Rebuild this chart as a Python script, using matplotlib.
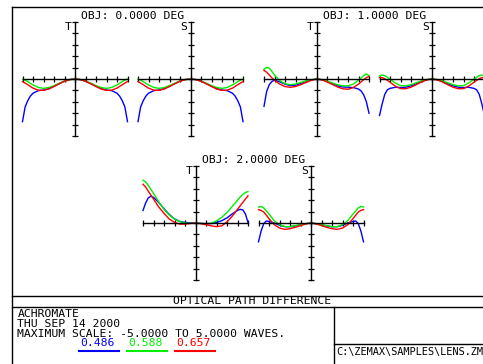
import numpy as np
import matplotlib
matplotlib.use('Agg')
import matplotlib.pyplot as plt
from matplotlib.lines import Line2D

# Pupil coordinates for the ray fans
pupil_full = np.array([-1, -.95, -.9, -.85, -.8, -.7, -.6, -.5, -.4, -.3, -.2, -.1, 0,
                       .1, .2, .3, .4, .5, .6, .7, .8, .85, .9, .95, 1])
pupil_half = np.array([0, .1, .2, .3, .4, .5, .6, .7, .8, .85, .9, .95, 1])

wavelengths = ['0.486', '0.588', '0.657']
colors = ['#0000ff', '#00ee00', '#ff0000']
field_titles = ['OBJ: 0.0000 DEG', 'OBJ: 1.0000 DEG', 'OBJ: 2.0000 DEG']

# OPD in waves.  Field 0: symmetric, tangential == sagittal (half fans)
obj0_blue = [0, -0.05, -0.19, -0.40, -0.63, -0.84, -0.97, -1.02, -1.25, -1.50, -1.90, -2.45, -3.74]
obj0_green = [0, -0.05, -0.18, -0.37, -0.58, -0.75, -0.82, -0.74, -0.52, -0.38, -0.23, -0.10, 0.0]
obj0_red = [0, -0.05, -0.20, -0.42, -0.66, -0.88, -1.00, -0.98, -0.80, -0.65, -0.50, -0.36, -0.22]

# Field 1 tangential (full fan)
obj1_t_blue = [-2.4, -1.1, -0.5, -0.22, -0.1, -0.25, -0.45, -0.58, -0.55, -0.4, -0.23, -0.08, 0,
               -0.06, -0.22, -0.42, -0.6, -0.7, -0.72, -0.75, -0.88, -1.05, -1.4, -2.0, -3.0]
obj1_t_green = [0.85, 1.02, 0.96, 0.67, 0.35, -0.15, -0.41, -0.5, -0.44, -0.3, -0.17, -0.06, 0,
                -0.05, -0.18, -0.35, -0.5, -0.6, -0.6, -0.45, -0.1, 0.1, 0.32, 0.44, 0.3]
obj1_t_red = [0.75, 0.6, 0.35, 0.1, -0.12, -0.45, -0.66, -0.73, -0.66, -0.5, -0.3, -0.12, 0,
              -0.07, -0.25, -0.47, -0.7, -0.86, -0.9, -0.75, -0.45, -0.25, -0.05, 0.12, 0.22]
# Field 1 sagittal (half fan)
obj1_s_blue = [0, -0.06, -0.22, -0.42, -0.60, -0.72, -0.75, -0.73, -0.82, -0.95, -1.35, -2.2, -3.2]
obj1_s_green = [0, -0.04, -0.16, -0.33, -0.50, -0.60, -0.58, -0.35, -0.02, 0.15, 0.30, 0.35, 0.26]
obj1_s_red = [0, -0.08, -0.26, -0.50, -0.72, -0.85, -0.84, -0.62, -0.28, -0.12, 0.02, 0.12, 0.12]

# Field 2 tangential (full fan)
obj2_t_blue = [1.1, 1.75, 2.2, 2.35, 2.25, 1.8, 1.25, 0.75, 0.35, 0.14, 0.05, 0.01, 0,
               -0.03, -0.06, -0.05, 0.05, 0.2, 0.45, 0.8, 1.1, 1.2, 1.15, 0.8, 0.05]
obj2_t_green = [3.75, 3.6, 3.3, 2.95, 2.6, 1.85, 1.2, 0.7, 0.35, 0.12, 0.0, -0.03, 0,
                -0.04, -0.07, -0.02, 0.18, 0.5, 0.92, 1.45, 2.0, 2.28, 2.5, 2.68, 2.75]
obj2_t_red = [3.4, 3.15, 2.8, 2.45, 2.1, 1.4, 0.85, 0.35, 0.05, -0.1, -0.1, -0.04, 0,
              -0.06, -0.15, -0.25, -0.32, -0.25, 0.1, 0.6, 1.2, 1.5, 1.8, 2.1, 2.38]
# Field 2 sagittal (half fan)
obj2_s_blue = [0, -0.06, -0.16, -0.26, -0.33, -0.32, -0.20, 0.0, 0.13, 0.18, -0.05, -0.7, -1.65]
obj2_s_green = [0, -0.06, -0.15, -0.23, -0.32, -0.32, -0.15, 0.20, 0.79, 1.05, 1.32, 1.46, 1.40]
obj2_s_red = [0, -0.08, -0.23, -0.38, -0.50, -0.56, -0.44, -0.15, 0.38, 0.68, 0.96, 1.10, 1.17]

W, H = 483, 364
FONT = 'DejaVu Sans Mono'
FS = 8.2

fig = plt.figure(figsize=(W / 100, H / 100), dpi=100)
fig.patch.set_facecolor('white')


def px(x, y):
    return x / W, 1 - y / H


def fan_axes(cx, cy, label):
    hw, hh = 52.5, 57
    ax = fig.add_axes([(cx - hw) / W, 1 - (cy + hh) / H, 2 * hw / W, 2 * hh / H])
    ax.set_xlim(-1, 1)
    ax.set_ylim(-5, 5)
    ax.patch.set_alpha(0)
    for s in ['top', 'right']:
        ax.spines[s].set_visible(False)
    for s in ['left', 'bottom']:
        ax.spines[s].set_position('zero')
        ax.spines[s].set_linewidth(1.0)
    ax.set_xticks(np.linspace(-1, 1, 11))
    ax.set_yticks(np.arange(-5, 6, 1))
    ax.tick_params(direction='inout', length=4.5, width=0.9,
                   labelbottom=False, labelleft=False)
    ax.text(0.5 - 6.5 / 105, 1 - 5 / 114, label, transform=ax.transAxes,
            ha='center', va='center', family=FONT, fontsize=FS)
    return ax


def draw_full(ax, curves):
    for vals, c in zip(curves, colors):
        ax.plot(pupil_full, vals, color=c, lw=1.0, clip_on=False)


def draw_half(ax, curves):
    for vals, c in zip(curves, colors):
        ax.plot(np.concatenate([-pupil_half[::-1], pupil_half[1:]]),
                np.concatenate([np.array(vals)[::-1], np.array(vals)[1:]]),
                color=c, lw=1.0, clip_on=False)


t_centers = [(75, 79), (316.5, 79), (195.5, 223)]
s_off = 115.5
title_y = [15.7, 15.7, 160]

obj0 = [obj0_blue, obj0_green, obj0_red]
fans_t = [obj0, [obj1_t_blue, obj1_t_green, obj1_t_red], [obj2_t_blue, obj2_t_green, obj2_t_red]]
fans_s = [obj0, [obj1_s_blue, obj1_s_green, obj1_s_red], [obj2_s_blue, obj2_s_green, obj2_s_red]]

for i in range(3):
    cx, cy = t_centers[i]
    ax_t = fan_axes(cx, cy, 'T')
    if i == 0:
        draw_half(ax_t, fans_t[i])
    else:
        draw_full(ax_t, fans_t[i])
    ax_s = fan_axes(cx + s_off, cy, 'S')
    draw_half(ax_s, fans_s[i])
    fig.text(*px(cx + s_off / 2, title_y[i]), field_titles[i], ha='center', va='center',
             family=FONT, fontsize=FS)

# frame
lw = 1.0
frame = [((11.7, 483), (7.3, 7.3)), ((11.7, 11.7), (7.3, 364)),
         ((11.7, 483), (296, 296)), ((11.7, 483), (306.5, 306.5)),
         ((334, 334), (306.5, 364)), ((334, 483), (344, 344))]
for xs, ys in frame:
    fig.add_artist(Line2D([x / W for x in xs], [1 - y / H for y in ys],
                          color='black', lw=lw, transform=fig.transFigure))

fig.text(*px(252.5, 301.5), 'OPTICAL PATH DIFFERENCE', ha='center', va='center',
         family=FONT, fontsize=FS)
info = ['ACHROMATE', 'THU SEP 14 2000', 'MAXIMUM SCALE: -5.0000 TO 5.0000 WAVES.']
for k, line in enumerate(info):
    fig.text(*px(17.3, 314.3 + 9.7 * k), line, ha='left', va='center',
             family=FONT, fontsize=FS)

leg_x = [80, 128.3, 176]
for wl, c, x0 in zip(wavelengths, colors, leg_x):
    fig.text(*px(x0, 343), wl, ha='left', va='center', color=c,
             family=FONT, fontsize=FS)
    fig.add_artist(Line2D([(x0 - 1) / W, (x0 + 39) / W], [1 - 351 / H] * 2,
                          color=c, lw=1.5, transform=fig.transFigure))

fig.text(*px(336.5, 351.5), 'C:\\ZEMAX\\SAMPLES\\LENS.ZMX', ha='left', va='center',
         family=FONT, fontsize=7.4)

fig.savefig('out.png', dpi=100)
